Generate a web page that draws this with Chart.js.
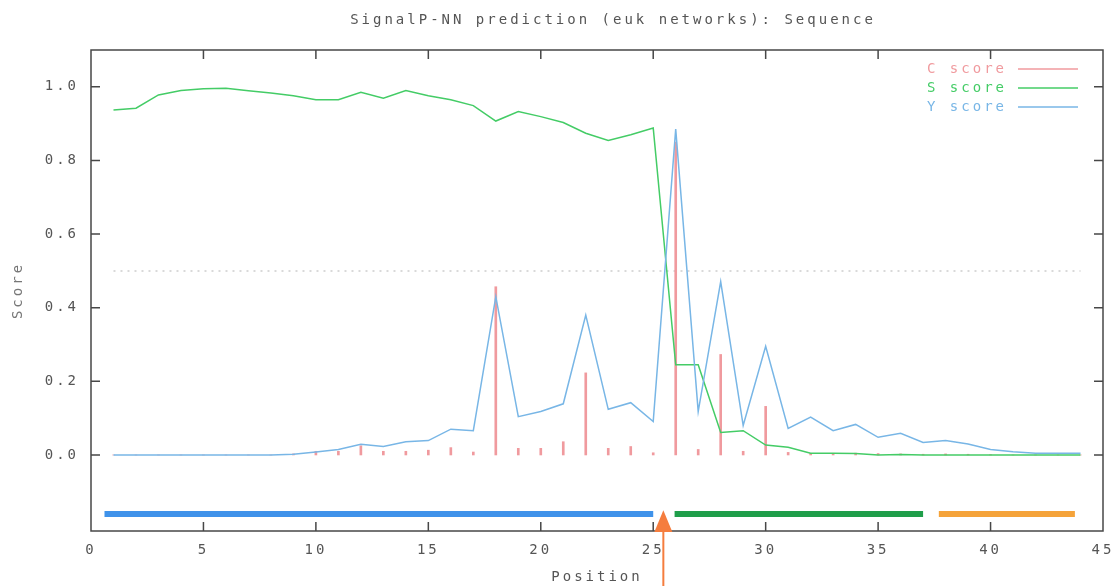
<!DOCTYPE html>
<html>
<head>
<meta charset="utf-8">
<title>SignalP-NN prediction</title>
<script src="https://cdn.jsdelivr.net/npm/chart.js@4.4.1/dist/chart.umd.min.js"></script>
<style>
  html, body { margin: 0; padding: 0; background: #fff; }
  #wrap { width: 1116px; height: 586px; }
</style>
</head>
<body>
<div id="wrap"><canvas id="chart"></canvas></div>
<script>
// Data
const positions = [1, 2, 3, 4, 5, 6, 7, 8, 9, 10, 11, 12, 13, 14, 15, 16, 17, 18, 19, 20, 21, 22,
  23, 24, 25, 26, 27, 28, 29, 30, 31, 32, 33, 34, 35, 36, 37, 38, 39, 40, 41, 42, 43, 44];
const cScore = [0, 0, 0, 0, 0, 0, 0, 0, 0.003, 0.01, 0.01, 0.025, 0.01, 0.01, 0.013, 0.02, 0.008, 0.457,
  0.018, 0.018, 0.036, 0.223, 0.018, 0.023, 0.006, 0.85, 0.015, 0.273, 0.01, 0.132, 0.007, 0.004,
  0.004, 0.005, 0.004, 0.003, 0.002, 0.003, 0.002, 0.001, 0, 0, 0, 0];
const sScore = [0.937, 0.942, 0.978, 0.99, 0.995, 0.996, 0.989, 0.983, 0.976, 0.965, 0.965, 0.985,
  0.969, 0.99, 0.976, 0.965, 0.949, 0.907, 0.933, 0.919, 0.903, 0.874, 0.854, 0.87, 0.888, 0.245,
  0.245, 0.061, 0.066, 0.027, 0.021, 0.005, 0.005, 0.004, 0, 0.001, 0, 0, 0, 0, 0, 0, 0, 0];
const yScore = [0, 0, 0, 0, 0, 0, 0, 0, 0.002, 0.008, 0.015, 0.029, 0.023, 0.036, 0.039, 0.07, 0.066,
  0.43, 0.104, 0.118, 0.139, 0.38, 0.124, 0.142, 0.091, 0.885, 0.118, 0.471, 0.08, 0.295, 0.072,
  0.103, 0.066, 0.083, 0.048, 0.059, 0.034, 0.039, 0.03, 0.015, 0.009, 0.005, 0.005, 0.005];

const xTicks = [0, 5, 10, 15, 20, 25, 30, 35, 40, 45];
const yTicks = [0, 0.2, 0.4, 0.6, 0.8, 1.0];

// dotted cutoff line
const thresholdSpan = [1, 44];
const thresholdScore = 0.5;

// coloured region bars under the curves
const regionStarts = [0.6, 25.95, 37.7];
const regionEnds = [25.0, 37.0, 43.75];
const regionScore = -0.16;

// predicted cleavage site arrow
const cleavageSite = 25.45;
const arrowTipScore = -0.15;

const chartTitle = 'SignalP-NN prediction (euk networks): Sequence';
const legendLabels = ['C score', 'S score', 'Y score'];

const C_COLOR = '#f09a9e';
const S_COLOR = '#44cc66';
const Y_COLOR = '#78b6e6';
const regionColors = ['#3f92ea', '#1f9e4a', '#f5a33a'];
const ARROW_COLOR = '#f57d3e';
const FONT = '"DejaVu Sans Mono", "Liberation Mono", monospace';
const SPACING = '3px';

const toPoints = (vals) => positions.map((p, i) => ({ x: p, y: vals[i] }));

// gnuplot-like frame, inward ticks, title, key and arrow
const gnuplotFrame = {
  id: 'gnuplotFrame',
  beforeDraw(chart) {
    chart.ctx.letterSpacing = SPACING;
  },
  afterDraw(chart) {
    const { ctx, chartArea: a, scales: { x, y } } = chart;
    ctx.save();
    ctx.strokeStyle = '#474747';
    ctx.lineWidth = 1.5;
    ctx.strokeRect(a.left, a.top, a.right - a.left, a.bottom - a.top);

    ctx.beginPath();
    xTicks.forEach(v => {
      if (v <= x.min || v >= x.max) return;
      const px = x.getPixelForValue(v);
      ctx.moveTo(px, a.bottom); ctx.lineTo(px, a.bottom - 9);
      ctx.moveTo(px, a.top); ctx.lineTo(px, a.top + 9);
    });
    yTicks.forEach(v => {
      const py = y.getPixelForValue(v);
      ctx.moveTo(a.left, py); ctx.lineTo(a.left + 9, py);
      ctx.moveTo(a.right, py); ctx.lineTo(a.right - 9, py);
    });
    ctx.stroke();

    ctx.letterSpacing = SPACING;
    ctx.font = '14px ' + FONT;
    ctx.textBaseline = 'middle';

    // title
    ctx.fillStyle = '#555';
    ctx.textAlign = 'center';
    ctx.fillText(chartTitle, 613, 20);

    // key
    const keyColors = [C_COLOR, S_COLOR, Y_COLOR];
    ctx.textAlign = 'right';
    ctx.lineWidth = 1.5;
    legendLabels.forEach((lab, i) => {
      const ky = 69 + i * 19;
      ctx.fillStyle = keyColors[i];
      ctx.fillText(lab, 1007, ky);
      ctx.strokeStyle = keyColors[i];
      ctx.beginPath();
      ctx.moveTo(1018, ky); ctx.lineTo(1078, ky);
      ctx.stroke();
    });

    // cleavage arrow
    const ax = x.getPixelForValue(cleavageSite);
    const tip = y.getPixelForValue(arrowTipScore);
    const base = a.bottom + 1;
    ctx.fillStyle = ARROW_COLOR;
    ctx.strokeStyle = ARROW_COLOR;
    ctx.lineWidth = 2;
    ctx.beginPath();
    ctx.moveTo(ax, base); ctx.lineTo(ax, chart.height);
    ctx.stroke();
    ctx.beginPath();
    ctx.moveTo(ax, tip);
    ctx.lineTo(ax + 9, base);
    ctx.lineTo(ax - 9, base);
    ctx.closePath();
    ctx.fill();
    ctx.restore();
  }
};

const tickFont = { family: FONT, size: 14 };

new Chart(document.getElementById('chart'), {
  type: 'line',
  data: {
    datasets: [
      {
        label: 'Y score', data: toPoints(yScore), borderColor: Y_COLOR,
        borderWidth: 1.5, pointRadius: 0, tension: 0, order: 0
      },
      {
        label: 'S score', data: toPoints(sScore), borderColor: S_COLOR,
        borderWidth: 1.5, pointRadius: 0, tension: 0, order: 1
      },
      {
        type: 'bar', label: 'C score', data: toPoints(cScore), backgroundColor: C_COLOR,
        barThickness: 2, order: 2
      },
      {
        label: 'cutoff', data: thresholdSpan.map(p => ({ x: p, y: thresholdScore })),
        borderColor: '#cdcdcd', borderWidth: 1.5, borderDash: [2, 5], pointRadius: 0, order: 3
      },
      ...regionStarts.map((s, i) => ({
        label: 'region ' + (i + 1),
        data: [{ x: s, y: regionScore }, { x: regionEnds[i], y: regionScore }],
        borderColor: regionColors[i], borderWidth: 6, borderCapStyle: 'butt',
        pointRadius: 0, order: 4
      }))
    ]
  },
  options: {
    responsive: true,
    maintainAspectRatio: false,
    animation: false,
    layout: { padding: { top: 50, right: 13, left: 0, bottom: 0 } },
    plugins: {
      legend: { display: false },
      title: { display: false },
      tooltip: { enabled: false }
    },
    scales: {
      x: {
        type: 'linear', min: 0, max: 45, offset: false,
        afterBuildTicks: (s) => { s.ticks = xTicks.map(v => ({ value: v })); },
        afterFit: (s) => { s.height = 55; s.paddingLeft = 0; s.paddingRight = 0; },
        grid: { display: false, drawTicks: false },
        border: { display: false },
        ticks: {
          font: tickFont, color: '#555', padding: 11, maxRotation: 0, autoSkip: false,
          callback: (v) => String(v)
        },
        title: {
          display: true, text: 'Position', font: tickFont, color: '#555',
          padding: { top: 0, bottom: 0 }
        }
      },
      y: {
        min: -0.2065, max: 1.1,
        afterBuildTicks: (s) => { s.ticks = yTicks.map(v => ({ value: v })); },
        afterFit: (s) => { s.width = 91; s.paddingTop = 0; s.paddingBottom = 0; },
        grid: { display: false, drawTicks: false },
        border: { display: false },
        ticks: {
          font: tickFont, color: '#555', padding: 12,
          callback: (v) => v.toFixed(1)
        },
        title: {
          display: true, text: 'Score', font: tickFont, color: '#777',
          padding: { top: 10, bottom: 0 }
        }
      }
    }
  },
  plugins: [gnuplotFrame]
});
</script>
</body>
</html>
